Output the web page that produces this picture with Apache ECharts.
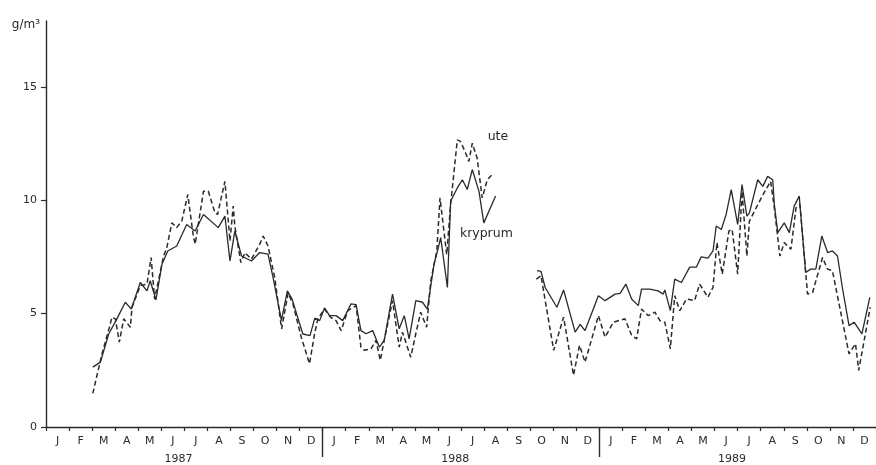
<!DOCTYPE html>
<html>
<head>
<meta charset="utf-8">
<script src="https://cdn.jsdelivr.net/npm/echarts@6/dist/echarts.min.js"></script>
<style>
html,body{margin:0;padding:0;background:#fff;}
#chart{width:876px;height:465px;}
</style>
</head>
<body>
<div id="chart"></div>
<script>
// Month letters, year labels, y tick labels
var monthLetters = ['J','F','M','A','M','J','J','A','S','O','N','D'];
var years = ['1987','1988','1989'];
var yTicks = [0, 5, 10, 15];

// x = months since Jan 1987 (fractional), y = g/m3 ; null marks the data gap
var kryprumX = [2.03,2.36,2.72,3.04,3.44,3.70,4.09,4.38,4.52,4.77,5.03,5.28,5.67,6.10,6.47,6.83,7.47,7.76,7.98,8.19,8.48,8.91,9.27,9.63,9.85,10.21,10.47,10.67,11.14,11.45,11.66,11.87,12.08,12.30,12.58,12.87,13.23,13.45,13.66,13.88,14.17,14.46,14.67,15.03,15.32,15.54,15.75,16.04,16.33,16.54,16.83,16.98,17.12,17.41,17.55,17.84,18.06,18.27,18.49,18.78,18.99,19.50,
  20.4,
  21.30,21.47,21.65,22.16,22.45,22.95,23.17,23.38,23.96,24.25,24.68,24.90,25.15,25.40,25.69,25.83,26.19,26.55,26.77,26.84,27.08,27.27,27.56,27.92,28.21,28.42,28.71,28.93,29.07,29.29,29.50,29.72,30.00,30.19,30.40,30.51,30.87,31.09,31.30,31.52,31.59,31.74,32.02,32.24,32.45,32.67,32.95,33.17,33.39,33.65,33.90,34.11,34.33,34.54,34.83,35.05,35.39,35.73];
var kryprumY = [2.64,2.86,4.10,4.70,5.50,5.20,6.37,6.00,6.45,5.60,7.18,7.76,7.98,8.93,8.64,9.37,8.79,9.30,7.32,8.64,7.54,7.32,7.69,7.62,6.59,4.70,6.00,5.65,4.10,4.03,4.80,4.69,5.25,4.91,4.91,4.69,5.43,5.40,4.25,4.11,4.25,3.52,3.82,5.86,4.33,4.91,3.89,5.57,5.50,5.20,7.18,7.76,8.35,6.15,9.96,10.54,10.90,10.47,11.35,10.39,9.00,10.18,
  null,
  6.89,6.86,6.15,5.28,6.04,4.18,4.52,4.25,5.79,5.57,5.86,5.89,6.30,5.64,5.35,6.08,6.08,6.00,5.86,6.04,5.13,6.52,6.37,7.05,7.05,7.50,7.45,7.76,8.86,8.71,9.37,10.47,8.93,10.69,9.30,9.44,10.90,10.61,11.05,10.90,9.81,8.57,9.00,8.57,9.74,10.18,6.81,6.96,6.96,8.42,7.69,7.76,7.54,6.15,4.47,4.62,4.11,5.72];

var uteX = [2.03,2.43,2.75,2.86,3.01,3.18,3.37,3.66,3.73,4.09,4.38,4.56,4.71,5.10,5.24,5.46,5.67,5.89,6.15,6.39,6.47,6.83,7.04,7.33,7.44,7.76,7.98,8.12,8.19,8.45,8.63,8.91,9.27,9.42,9.63,9.92,10.22,10.50,10.71,11.07,11.43,11.65,11.79,12.08,12.34,12.58,12.80,13.09,13.45,13.66,13.81,14.10,14.31,14.50,14.67,15.03,15.32,15.46,15.82,16.04,16.25,16.51,16.69,16.95,17.09,17.38,17.55,17.84,17.98,18.20,18.34,18.49,18.70,18.92,19.14,19.35,
  20.4,
  21.27,21.47,22.02,22.45,22.88,23.14,23.38,23.96,24.25,24.61,25.11,25.40,25.62,25.83,26.12,26.41,26.63,26.84,27.08,27.27,27.49,27.78,28.13,28.35,28.71,28.93,29.10,29.33,29.62,29.76,30.00,30.19,30.40,30.51,30.80,31.10,31.43,31.59,31.83,32.02,32.31,32.53,32.70,33.03,33.25,33.68,33.90,34.11,34.83,35.11,35.25,35.75];
var uteY = [1.48,3.23,4.40,4.84,4.77,3.74,4.77,4.40,5.28,6.23,6.30,7.47,5.64,7.54,7.91,9.00,8.79,9.08,10.25,8.42,8.06,10.39,10.39,9.44,9.37,10.83,8.20,9.74,8.86,7.25,7.69,7.40,8.06,8.42,7.98,6.59,4.33,5.90,5.43,3.96,2.79,4.11,4.77,5.20,4.84,4.69,4.25,5.13,5.35,3.52,3.38,3.45,3.82,2.94,3.82,5.57,3.52,4.18,3.08,4.11,5.06,4.40,6.45,7.76,10.10,7.60,9.80,12.66,12.59,12.08,11.71,12.51,11.86,10.10,10.90,11.13,
  null,
  6.52,6.67,3.38,4.84,2.28,3.60,2.86,4.91,3.96,4.62,4.77,4.04,3.89,5.20,4.91,5.06,4.69,4.62,3.45,5.79,5.13,5.64,5.57,6.30,5.72,6.15,8.13,6.74,8.64,8.71,6.74,10.39,7.54,9.08,9.66,10.25,10.83,9.66,7.54,8.13,7.84,9.66,9.81,5.86,5.93,7.47,6.96,6.89,3.23,3.67,2.50,5.28];

function pairs(xs, ys) {
  return xs.map(function (x, i) { return [x, ys[i] === null ? '-' : ys[i]]; });
}

var ink = '#2a2a2a';
var font = 'DejaVu Sans';
var monthTicks = [], monthCenters = [];
for (var i = 0; i <= 36; i++) monthTicks.push(i);
for (var j = 0; j < 36; j++) monthCenters.push(j + 0.5);

function seriesTag(text, coord) {
  return {
    symbol: 'circle', symbolSize: 1, silent: true,
    itemStyle: {color: 'rgba(0,0,0,0)'},
    label: {show: true, position: 'inside', formatter: text, color: ink, fontFamily: font, fontSize: 12.5},
    data: [{coord: coord, value: 1}]
  };
}

var chart = echarts.init(document.getElementById('chart'), null, {renderer: 'canvas'});
chart.setOption({
  animation: false,
  backgroundColor: '#ffffff',
  grid: {left: 46, right: -5, top: 21, bottom: 38, containLabel: false},
  xAxis: [
    {
      type: 'value', min: 0, max: 36, position: 'bottom',
      axisLine: {show: true, onZero: false, lineStyle: {color: ink, width: 1.4}},
      axisTick: {show: true, inside: false, length: 4, customValues: monthTicks, lineStyle: {color: ink, width: 1.2}},
      axisLabel: {show: true, customValues: monthCenters, margin: 9, color: ink, fontFamily: font, fontSize: 11,
        formatter: function (v) { return monthLetters[Math.floor(v) % 12]; }},
      splitLine: {show: false}
    },
    {
      type: 'value', min: 0, max: 36, position: 'bottom',
      axisLine: {show: false, onZero: false},
      axisTick: {show: true, inside: false, length: 30, customValues: [12, 24], lineStyle: {color: ink, width: 1.4}},
      axisLabel: {show: true, customValues: [5.75, 17.75, 29.75], margin: 27, color: ink, fontFamily: font, fontSize: 11,
        formatter: function (v) { return years[Math.floor(v / 12)]; }},
      splitLine: {show: false}
    }
  ],
  yAxis: {
    type: 'value', min: 0, max: 17.9,
    name: 'g/m³', nameLocation: 'end', nameGap: -4,
    nameTextStyle: {color: ink, fontFamily: font, fontSize: 12, align: 'right', verticalAlign: 'middle', padding: [0, 6, 0, 0]},
    axisLine: {show: true, onZero: false, lineStyle: {color: ink, width: 1.4}},
    axisTick: {show: true, inside: false, length: 5, customValues: yTicks, lineStyle: {color: ink, width: 1.2}},
    axisLabel: {show: true, customValues: yTicks, margin: 9, color: ink, fontFamily: font, fontSize: 11},
    splitLine: {show: false}
  },
  series: [
    {
      name: 'kryprum', type: 'line', xAxisIndex: 0, data: pairs(kryprumX, kryprumY),
      showSymbol: false, symbol: 'none', connectNulls: false,
      lineStyle: {color: ink, width: 1.3, type: 'solid'},
      markPoint: seriesTag('kryprum', [19.1, 8.5])
    },
    {
      name: 'ute', type: 'line', xAxisIndex: 0, data: pairs(uteX, uteY),
      showSymbol: false, symbol: 'none', connectNulls: false,
      lineStyle: {color: ink, width: 1.5, type: [5, 3]},
      markPoint: seriesTag('ute', [19.6, 12.8])
    }
  ]
});
</script>
</body>
</html>
